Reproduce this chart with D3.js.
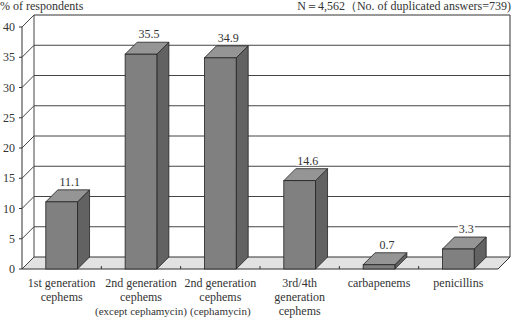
<!DOCTYPE html>
<html>
<head>
<meta charset="utf-8">
<script src="https://cdn.jsdelivr.net/npm/d3@7"></script>
<style>
body { margin: 0; background: #fff; }
text { font-family: "Liberation Serif", "DejaVu Serif", serif; fill: #333; }
</style>
</head>
<body>
<svg width="526" height="319"></svg>
<script>
var categories = ["1st generation|cephems", "2nd generation|cephems|(except cephamycin)",
  "2nd generation|cephems|(cephamycin)", "3rd/4th|generation|cephems", "carbapenems", "penicillins"];
var values = [11.1, 35.5, 34.9, 14.6, 0.7, 3.3];
var yTicks = [0, 5, 10, 15, 20, 25, 30, 35, 40];

var svg = d3.select("svg"),
  plotLeft = 22, plotRight = 498, plotBottom = 269, plotTop = 27,
  dx = 12, dy = 12;

var x = d3.scaleBand().domain(d3.range(categories.length))
  .range([plotLeft, plotRight]).paddingInner(0.6).paddingOuter(0.3);
var y = d3.scaleLinear().domain([0, 40]).range([plotBottom, plotTop]);

var g = svg.append("g");

// floor
g.append("polygon")
  .attr("points", [[plotLeft, plotBottom], [plotRight, plotBottom], [plotRight + dx, plotBottom - dy], [plotLeft + dx, plotBottom - dy]].join(" "))
  .attr("fill", "#e2e2e2").attr("stroke", "#333").attr("stroke-width", 1);

// back wall gridlines + side wall diagonals
yTicks.forEach(function(t) {
  var yy = y(t) - dy;
  if (t > 0) {
    g.append("line").attr("x1", plotLeft + dx).attr("x2", plotRight + dx).attr("y1", yy).attr("y2", yy)
      .attr("stroke", t == 40 ? "#333" : "#444").attr("stroke-width", 1);
  }
  g.append("line").attr("x1", plotLeft).attr("y1", y(t)).attr("x2", plotLeft + dx).attr("y2", yy)
    .attr("stroke", "#444").attr("stroke-width", 1);
  g.append("line").attr("x1", plotLeft - 3).attr("x2", plotLeft).attr("y1", y(t)).attr("y2", y(t))
    .attr("stroke", "#333");
});

// back wall verticals
g.append("line").attr("x1", plotLeft + dx).attr("x2", plotLeft + dx).attr("y1", y(40) - dy).attr("y2", plotBottom - dy)
  .attr("stroke", "#444");
g.append("line").attr("x1", plotRight + dx).attr("x2", plotRight + dx).attr("y1", y(40) - dy).attr("y2", plotBottom - dy)
  .attr("stroke", "#333");
// front axis
g.append("line").attr("x1", plotLeft).attr("x2", plotLeft).attr("y1", y(40)).attr("y2", plotBottom)
  .attr("stroke", "#333");

// category ticks on floor
d3.range(1, categories.length).forEach(function(i) {
  var xx = plotLeft + x.step() * i;
  g.append("line").attr("x1", xx).attr("x2", xx).attr("y1", plotBottom).attr("y2", plotBottom - 3)
    .attr("stroke", "#333");
});

// bars
var bw = x.bandwidth();
var bars = g.selectAll(".bar").data(values).enter().append("g").attr("class", "bar");
bars.append("polygon")
  .attr("points", function(d, i) {
    var x0 = x(i) + bw, y0 = y(d);
    return [[x0, y0], [x0 + dx, y0 - dy], [x0 + dx, plotBottom - dy], [x0, plotBottom]].join(" ");
  })
  .attr("fill", "#626262").attr("stroke", "#222").attr("stroke-width", 0.8);
bars.append("polygon")
  .attr("points", function(d, i) {
    var x0 = x(i), y0 = y(d);
    return [[x0, y0], [x0 + dx, y0 - dy], [x0 + bw + dx, y0 - dy], [x0 + bw, y0]].join(" ");
  })
  .attr("fill", "#959595").attr("stroke", "#222").attr("stroke-width", 0.8);
bars.append("rect")
  .attr("x", function(d, i) { return x(i); })
  .attr("y", function(d) { return y(d); })
  .attr("width", bw)
  .attr("height", function(d) { return plotBottom - y(d); })
  .attr("fill", "#808080").attr("stroke", "#222").attr("stroke-width", 0.8);

// value labels
bars.each(function(d, i) {
  var cx = x(i) + bw / 2 + 8, by = y(d) - dy - 4;
  var sel = d3.select(this);
  var bg = sel.append("rect").attr("fill", "#fff");
  var t = sel.append("text").attr("x", cx).attr("y", by)
    .attr("text-anchor", "middle").attr("font-size", 12).text(d.toFixed(1));
  var bb = t.node().getBBox();
  bg.attr("x", bb.x - 1).attr("y", bb.y + 2).attr("width", bb.width + 2).attr("height", bb.height - 4);
});

// y tick labels
g.selectAll(".ylab").data(yTicks).enter().append("text")
  .attr("x", 15).attr("y", function(d) { return y(d) + 4; })
  .attr("text-anchor", "end").attr("font-size", 12).text(function(d) { return d; });

// category labels
categories.forEach(function(c, i) {
  var t = g.append("text").attr("text-anchor", "middle").attr("font-size", 12)
    .attr("x", x(i) + bw / 2).attr("y", 287);
  c.split("|").forEach(function(line, k) {
    t.append("tspan").attr("x", x(i) + bw / 2).attr("dy", k == 0 ? 0 : 14)
      .attr("font-size", line.charAt(0) == "(" ? 11 : 12).text(line);
  });
});

svg.append("text").attr("x", 0).attr("y", 10).attr("font-size", 12).text("% of respondents");
svg.append("text").attr("x", 511).attr("y", 10).attr("font-size", 12).attr("text-anchor", "end")
  .text("N＝4,562（No. of duplicated answers=739)");
</script>
</body>
</html>
